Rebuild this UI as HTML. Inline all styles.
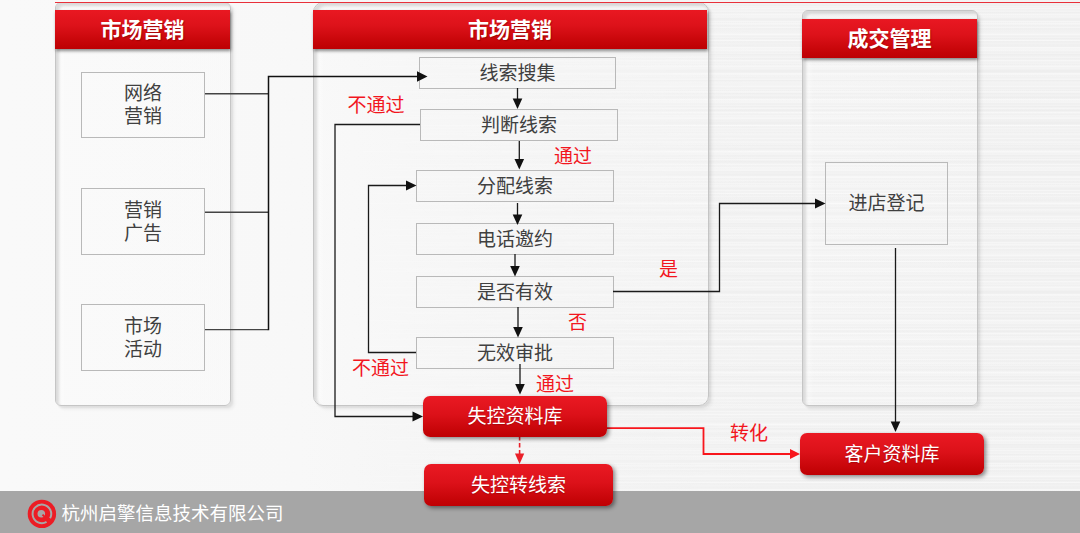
<!DOCTYPE html>
<html lang="zh-CN">
<head>
<meta charset="utf-8">
<title>市场营销流程</title>
<style>
*{box-sizing:border-box;margin:0;padding:0}
html,body{width:1080px;height:533px;overflow:hidden}
body{position:relative;font-family:"Liberation Sans","Noto Sans CJK SC",sans-serif;
background:linear-gradient(90deg,#f9f9f9 0,#f8f8f8 300px,#f3f3f3 560px,#efefef 760px,#eeeeee 1080px);}
.tex{left:0;top:0;width:1080px;height:491px;background:
repeating-linear-gradient(180deg,rgba(255,255,255,0) 0,rgba(255,255,255,.4) 1.200px,rgba(255,255,255,0) 2.600px,rgba(255,255,255,.22) 4px,rgba(255,255,255,0) 5.500px,rgba(255,255,255,0) 7px,rgba(255,255,255,.45) 8.500px,rgba(255,255,255,.08) 10px,rgba(255,255,255,.3) 11.500px,rgba(255,255,255,0) 13px),
repeating-linear-gradient(180deg,rgba(255,255,255,.25) 0,rgba(255,255,255,0) 2px,rgba(255,255,255,0) 5px,rgba(255,255,255,.35) 6.500px,rgba(255,255,255,0) 8px,rgba(255,255,255,.18) 11px,rgba(255,255,255,0) 12.500px,rgba(255,255,255,.3) 15px,rgba(255,255,255,.25) 17px);
-webkit-mask-image:linear-gradient(90deg,transparent 250px,rgba(0,0,0,.5) 560px,#000 760px);mask-image:linear-gradient(90deg,transparent 250px,rgba(0,0,0,.5) 560px,#000 760px)}
.abs{position:absolute}
.topline{left:55px;top:2px;width:1025px;height:1px;background:#e8303a;z-index:3}
.panel{position:absolute;border:1px solid #c5c5c5;border-radius:6px;
background:linear-gradient(90deg,rgba(255,255,255,.75) 0,rgba(255,255,255,.15) 10px,rgba(255,255,255,.1) 100%);
box-shadow:2px 2px 2px rgba(0,0,0,.07),4px 4px 3px rgba(0,0,0,.04), inset 3px 3px 3px rgba(195,195,195,.6)}
.hdr{position:absolute;height:39px;background:linear-gradient(180deg,#e91822 0,#dd121a 40%,#c40407 85%,#bd0003 100%);
color:#fff;font-weight:700;font-size:21px;line-height:40px;text-align:center;
box-shadow:1px 2px 3px rgba(0,0,0,.45);text-shadow:1px 1px 1px rgba(120,0,0,.5)}
.box{position:absolute;border:1px solid #b9b9b9;color:#404040;font-size:19px;
display:flex;align-items:center;justify-content:center;text-align:center;line-height:23px;font-weight:400}
.rbox{position:absolute;border-radius:7px;background:linear-gradient(180deg,#ea1923 0,#dc1119 45%,#c30306 90%,#bf0004 100%);
color:#fff;font-size:19px;display:flex;align-items:center;justify-content:center;padding-bottom:4px;
box-shadow:2px 2px 4px rgba(0,0,0,.45);text-shadow:0 1px 1px rgba(120,0,0,.4)}
.lbl{position:absolute;color:#f2161e;font-size:19px;line-height:22px;white-space:nowrap}
.footer{left:0;top:491px;width:1080px;height:42px;background:#a6a6a6}
.ftxt{left:61.500px;top:501px;color:#fff;font-size:18.500px;line-height:26px;font-weight:400;white-space:nowrap}
svg{position:absolute;left:0;top:0}
</style>
</head>
<body>
<div class="abs topline"></div>
<div class="abs tex"></div>
<div class="abs footer"></div>

<div class="panel" style="left:55px;top:2px;width:176px;height:404px"></div>
<div class="panel" style="left:313px;top:2px;width:396px;height:404px;border-radius:10px"></div>
<div class="panel" style="left:802px;top:10px;width:176px;height:396px"></div>

<div class="hdr" style="left:55px;top:10px;width:175px">市场营销</div>
<div class="hdr" style="left:313px;top:10px;width:394px">市场营销</div>
<div class="hdr" style="left:802px;top:19px;width:175px">成交管理</div>

<div class="box" style="left:81px;top:72px;width:124px;height:66px">网络<br>营销</div>
<div class="box" style="left:81px;top:188px;width:124px;height:67px">营销<br>广告</div>
<div class="box" style="left:81px;top:304px;width:124px;height:67px">市场<br>活动</div>

<div class="box" style="left:419px;top:57px;width:197px;height:32px">线索搜集</div>
<div class="box" style="left:420px;top:109px;width:198px;height:32px">判断线索</div>
<div class="box" style="left:416px;top:170px;width:198px;height:32px">分配线索</div>
<div class="box" style="left:416px;top:223px;width:198px;height:32px">电话邀约</div>
<div class="box" style="left:416px;top:276px;width:198px;height:32px">是否有效</div>
<div class="box" style="left:416px;top:337px;width:198px;height:32px">无效审批</div>
<div class="box" style="left:825px;top:162px;width:123px;height:83px">进店登记</div>

<svg width="1080" height="533" viewBox="0 0 1080 533" fill="none">
 <g stroke="#1a1a1a" stroke-width="1.300" fill="none">
  <path d="M205 93.800H268M205 212.300H268M205 329.600H268" stroke="#444" stroke-width="1.400"/>
  <path d="M268.500 330.300V76.500H419" stroke="#111" stroke-width="1.500"/>
  <path d="M517.5 88V100"/>
  <path d="M519.300 141V160"/>
  <path d="M517.5 203V215"/>
  <path d="M515 254V267"/>
  <path d="M518 307V328"/>
  <path d="M520 364V385"/>
  <path d="M420 124.5H335V416.5H414"/>
  <path d="M416 352.5H368.5V185.5H407"/>
  <path d="M613 291.500H719.5V203.5H816"/>
  <path d="M895.5 248V423"/>
 </g>
 <g fill="#111">
  <path d="M427.500 76.500l-10.500 -5.300v10.600z"/>
  <path d="M517.500 109l-4.800 -10.500h9.600z"/>
  <path d="M519.300 169.500l-4.800 -10.500h9.600z"/>
  <path d="M517.500 225l-4.800 -10.500h9.600z"/>
  <path d="M515 276.500l-4.800 -10.500h9.600z"/>
  <path d="M518 337.500l-4.800 -10.500h9.600z"/>
  <path d="M520 394.500l-4.800 -10.500h9.600z"/>
  <path d="M423 416.500l-10.500 -5v10z"/>
  <path d="M416.500 185.500l-10.500 -5v10z"/>
  <path d="M825.500 203.500l-10.500 -5v10z"/>
  <path d="M895.500 432l-4.800 -10.500h9.600z"/>
 </g>
 <path d="M607 428.200H703.500V454H792" stroke="#f8161c" stroke-width="1.800"/>
 <path d="M800 454l-10 -5v10z" fill="#f8161c"/>
 <path d="M519.600 436V455" stroke="#ea2029" stroke-width="1.600" stroke-dasharray="4.500 2.500"/>
 <path d="M519.600 464l-4.600 -10.500h9.200z" fill="#ea2029"/>
</svg>

<div class="rbox" style="left:423px;top:396px;width:184px;height:41px">失控资料库</div>
<div class="rbox" style="left:424px;top:464px;width:189px;height:42px">失控转线索</div>
<div class="rbox" style="left:800px;top:433px;width:184px;height:42px">客户资料库</div>

<div class="lbl" style="left:347.500px;top:95px">不通过</div>
<div class="lbl" style="left:554px;top:146px">通过</div>
<div class="lbl" style="left:659px;top:259px">是</div>
<div class="lbl" style="left:568px;top:312px">否</div>
<div class="lbl" style="left:352px;top:358px">不通过</div>
<div class="lbl" style="left:536px;top:374px">通过</div>
<div class="lbl" style="left:730px;top:423px">转化</div>

<svg width="1080" height="533" viewBox="0 0 1080 533" fill="none">
 <circle cx="41.9" cy="513.9" r="14.200" fill="#ec1c24"/>
 <path d="M46.55 521.95A9.3 9.3 0 1 1 50.11 518.27" stroke="#a9a6a6" stroke-width="2" fill="none"/>
 <circle cx="41.300" cy="513.700" r="3.800" fill="#a9a6a6"/>
 <path d="M42.500 514.600L45.500 517.600" stroke="#ec1c24" stroke-width="2"/>
</svg>
<div class="abs ftxt">杭州启擎信息技术有限公司</div>
</body>
</html>
